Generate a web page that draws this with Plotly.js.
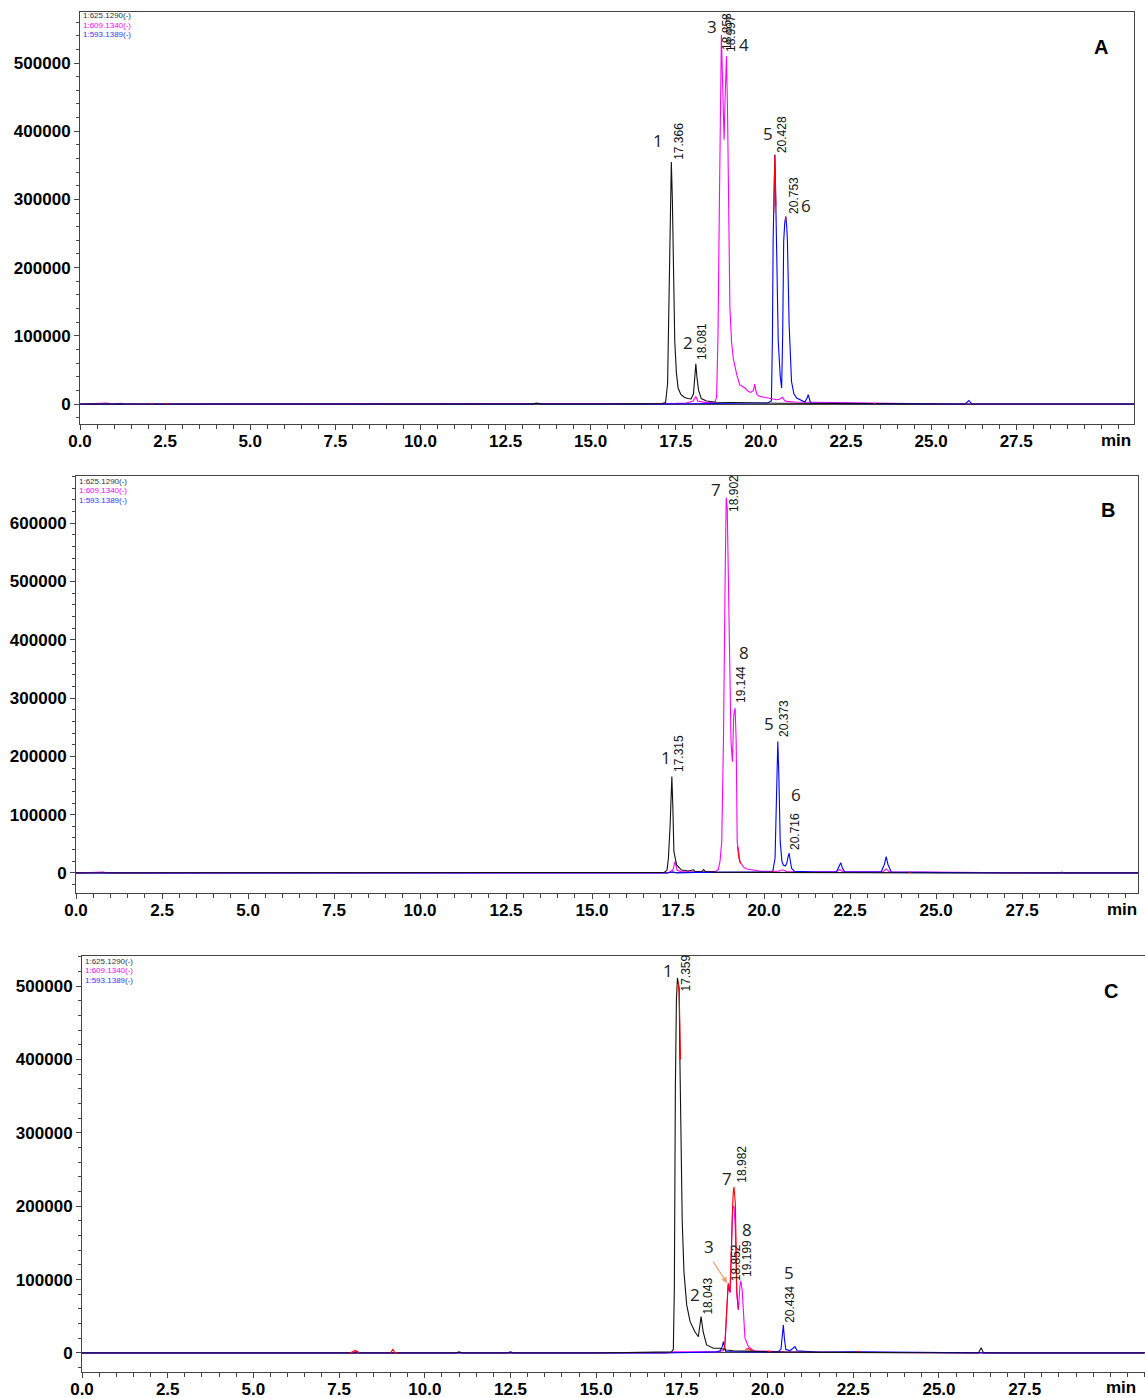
<!DOCTYPE html>
<html><head><meta charset="utf-8">
<script src="https://cdn.plot.ly/plotly-3.0.1.min.js"></script>
<style>html,body{margin:0;padding:0;background:#fff}#chart{width:1145px;height:1398px}</style>
</head><body><div id="chart"></div>
<script>
// ---------- Panel A ----------
var tA_black = [0,5,10,13.3,13.4,13.5,15.5,16.5,17.1,17.2,17.26,17.30,17.34,17.37,17.40,17.43,17.47,17.52,17.57,17.65,17.75,17.85,17.95,18.02,18.06,18.09,18.12,18.17,18.25,18.4,18.7,19.5,20.5,22,24,25,31];
var iA_black = [0,0,0,0,1500,0,0,500,800,2000,30000,150000,300000,355000,300000,180000,92000,45000,23000,14000,10000,8000,7500,15000,45000,59000,40000,20000,8000,4500,2500,1800,1200,800,300,0,0];
var tA_mag = [0,0.8,0.9,1.2,1.3,10,15.8,16.5,17.5,17.8,18.0,18.09,18.15,18.4,18.65,18.70,18.74,18.78,18.81,18.84,18.86,18.90,18.92,18.95,18.99,19.02,19.04,19.07,19.09,19.14,19.19,19.29,19.38,19.45,19.53,19.63,19.70,19.78,19.82,19.86,19.89,19.97,20.17,20.46,20.55,20.63,20.70,20.75,21.0,22,23,24,25,25.5,31];
var iA_mag = [0,1500,0,1200,0,0,0,800,1000,1500,4000,11000,4000,2000,2500,10000,100000,287000,450000,541000,500000,400000,387500,450000,510000,430000,336000,220000,141000,90000,67000,43000,28000,26000,23500,18600,17000,20000,29300,18000,13700,11200,8800,6300,7000,9800,5000,3900,3000,2500,2000,1500,800,0,0];
var tA_blue = [0,10,13.3,13.45,13.6,17.0,18.5,19.5,20.2,20.31,20.34,20.36,20.39,20.41,20.43,20.46,20.51,20.57,20.61,20.64,20.67,20.70,20.73,20.76,20.78,20.83,20.90,20.97,21.05,21.29,21.35,21.39,21.43,21.46,22,25,26.0,26.11,26.2,31];
var iA_blue = [0,0,0,1200,0,0,500,800,1500,5000,100000,238500,330000,365500,320000,238500,91900,40000,23500,100000,238500,265000,275000,260000,238500,116000,33000,15000,8800,2900,8000,13600,5000,1500,1000,500,0,5000,0,0];
var tA_red = [2.08,2.14,null,2.5,2.55,null,20.38,20.40,20.41,20.42,20.44,null,20.72,20.73,20.74,null,23.3,23.36];
var iA_red = [900,900,null,700,700,null,280000,350000,365500,340000,290000,null,268000,275000,268000,null,900,900];

// ---------- Panel B ----------
var tB_black = [0,10,15,16.8,17.1,17.18,17.22,17.27,17.32,17.35,17.38,17.46,17.6,17.8,17.95,18.0,18.2,18.24,18.3,18.6,19.5,21,23,25,31];
var iB_black = [0,0,0,500,1000,5000,25200,82300,165200,111000,36500,13700,5000,3500,5500,2500,3000,6000,2500,1500,1000,500,300,0,0];
var tB_mag = [0,0.8,0.9,10,17.2,17.35,17.41,17.47,17.6,18.3,18.6,18.67,18.72,18.77,18.82,18.87,18.90,18.93,18.96,18.99,19.04,19.08,19.12,19.16,19.19,19.22,19.30,19.40,19.50,19.9,20.4,20.55,20.65,21,22.1,22.2,22.3,23.45,23.55,23.65,25,26,28.6,28.65,28.75,31];
var iB_mag = [0,1500,0,0,0,5000,19400,5000,2000,2000,3000,6000,20000,53700,225200,511000,643600,625400,520000,396700,225200,190900,271000,282500,225200,53700,19400,10000,6900,3000,3000,5500,2500,2000,2000,6000,2000,2000,7000,2000,1500,1000,0,1500,0,0];
var tB_blue = [0,10,17.2,17.35,17.45,18.0,20.25,20.32,20.37,20.40,20.43,20.47,20.52,20.56,20.62,20.66,20.70,20.73,20.76,20.80,20.88,21.5,22.1,22.18,22.23,22.28,22.35,23.4,23.5,23.55,23.6,23.7,25,26.2,27,31];
var iB_blue = [0,0,0,2000,0,1000,1500,25200,168000,225200,168000,53700,20000,13700,12000,16600,28000,33800,22000,8000,3000,1500,1500,10000,17700,8000,1500,1500,15000,28000,15000,1500,1000,1500,0,0];
var tB_red = [19.23,19.27,19.32,null,20.2,20.26,null,24.2,24.26];
var iB_red = [45000,25000,16000,null,2500,2500,null,1200,1200];

// ---------- Panel C ----------
var tC_black = [0,5,9,10.9,11.0,11.1,15,17.0,17.2,17.25,17.28,17.31,17.34,17.37,17.40,17.42,17.44,17.47,17.51,17.56,17.64,17.74,17.88,17.98,18.03,18.06,18.12,18.22,18.42,18.61,18.8,19.0,19.5,20,22,24,26.15,26.23,26.3,31];
var iC_black = [0,0,0,0,1500,0,0,500,1500,5000,88200,361000,480000,511000,505000,497400,406500,315500,179100,110900,65500,42700,29000,22200,40000,49500,29000,10900,6400,6400,4000,3000,2500,1500,800,300,0,7000,0,0];
var tC_mag = [0,7.9,8.0,8.1,17.0,17.3,17.6,18.5,18.7,18.75,18.79,18.83,18.85,18.88,18.91,18.95,18.98,19.02,19.06,19.10,19.15,19.19,19.22,19.26,19.29,19.34,19.44,19.6,20.5,22,25,26,31];
var iC_mag = [0,0,2500,0,0,1500,1500,1500,3000,8000,40000,85000,93000,85000,82000,150000,198000,200000,170000,80000,58700,90000,98200,85000,65500,20500,8600,3000,1500,1000,500,0,0];
var tC_blue = [0,10,12.4,12.5,12.6,17,18.5,18.62,18.68,18.71,18.74,18.78,19.5,20.3,20.39,20.43,20.46,20.49,20.53,20.65,20.75,20.80,20.86,21.5,22.5,25,27,31];
var iC_blue = [0,0,0,1500,0,0,1500,3000,9000,15400,8000,2000,1500,1500,5000,30000,38200,20000,5000,3000,7000,8600,3000,1000,1500,500,0,0];
var tC_red = [7.8,7.9,7.96,8.05,8.1,null,9.0,9.07,9.12,9.2,null,17.39,17.42,17.44,17.46,null,18.72,18.76,18.79,18.83,18.85,18.88,18.90,18.93,18.95,18.98,19.00,19.02,19.04,19.06,19.08,19.10,19.14,null,19.35,19.45,19.55,null,20.0,20.1,null,22.6,22.7];
var iC_red = [0,1500,3500,1000,0,null,0,5000,1000,0,null,505000,490000,450000,400000,null,3000,15000,42700,85000,95100,86000,83600,120000,170000,200000,220000,226000,215000,201900,150000,88200,60000,null,5000,6000,3000,null,2500,1500,null,2000,2000];

// ---------- Tick labels / peak labels ----------
var xTickVals = [0,2.5,5,7.5,10,12.5,15,17.5,20,22.5,25,27.5];
var xTickText = ['0.0','2.5','5.0','7.5','10.0','12.5','15.0','17.5','20.0','22.5','25.0','27.5'];
var channelNames = ['1:625.1290(-)','1:609.1340(-)','1:593.1389(-)'];
var panelNames = ['A','B','C'];

var numsA = [['1',16.98,387000],['2',17.86,90900],['3',18.55,554000],['4',19.50,527800],['5',20.21,397300],['6',21.32,291700]];
var rtsA  = [['17.366',17.59,385600],['18.081',18.27,92400],['18.858',19.00,546800],['18.997',19.12,543900],['20.428',20.62,395800],['20.753',20.97,306400]];
var numsB = [['7',18.60,656800],['8',19.42,377300],['1',17.15,197200],['5',20.15,255500],['6',20.93,133800]];
var rtsB  = [['18.902',19.13,650000],['19.144',19.33,322400],['17.315',17.53,204100],['20.373',20.58,264100],['20.716',20.90,70300]];
var numsC = [['1',17.09,521000],['7',18.81,238300],['8',19.39,167800],['3',18.30,145000],['2',17.88,80100],['5',20.63,109500]];
var rtsC  = [['17.359',17.62,517000],['18.982',19.25,257800],['19.199',19.40,128200],['18.852',19.06,122800],['18.043',18.25,77700],['20.434',20.65,66800]];

var COL = {black:'#111111', mag:'#ff00ff', blue:'#0000ff', red:'#ff0000'};
var W = 1145, H = 1398;
function px(x){return x/W;}
function py(y){return 1 - y/H;}

function tr(t, v, color, xa, ya){
  return {x:t, y:v, type:'scatter', mode:'lines', line:{color:color, width:1.1}, xaxis:xa, yaxis:ya, connectgaps:false, hoverinfo:'skip'};
}
var data = [
  tr(tA_mag,iA_mag,COL.mag,'x','y'), tr(tA_blue,iA_blue,COL.blue,'x','y'), tr(tA_black,iA_black,COL.black,'x','y'), tr(tA_red,iA_red,COL.red,'x','y'),
  tr(tB_mag,iB_mag,COL.mag,'x2','y2'), tr(tB_blue,iB_blue,COL.blue,'x2','y2'), tr(tB_black,iB_black,COL.black,'x2','y2'), tr(tB_red,iB_red,COL.red,'x2','y2'),
  tr(tC_mag,iC_mag,COL.mag,'x3','y3'), tr(tC_blue,iC_blue,COL.blue,'x3','y3'), tr(tC_black,iC_black,COL.black,'x3','y3'), tr(tC_red,iC_red,COL.red,'x3','y3')
];

var tickFont = {family:'Liberation Sans, Arial, sans-serif', size:17, color:'#000', weight:'bold'};
function xAx(dom, rng, anchor){
  return {domain:dom, range:rng, anchor:anchor, showline:true, linecolor:'#444', linewidth:1, mirror:true,
    ticks:'outside', ticklen:5, tickwidth:1, tickcolor:'#444', tickmode:'array', tickvals:xTickVals, ticktext:xTickText,
    ticklabelstandoff:-3,
    tickfont:tickFont, minor:{tickmode:'linear', tick0:0, dtick:0.5, ticks:'outside', ticklen:4, tickcolor:'#444'},
    showgrid:false, zeroline:false, fixedrange:true};
}
function yAx(dom, rng, anchor, mirror){
  return {domain:dom, range:rng, anchor:anchor, showline:true, linecolor:'#444', linewidth:1, mirror:mirror,
    ticks:'outside', ticklen:5, tickwidth:1, tickcolor:'#444', tickmode:'linear', tick0:0, dtick:100000, tickformat:'d',
    tickfont:tickFont, minor:{tickmode:'linear', tick0:0, dtick:20000, ticks:'outside', ticklen:3, tickcolor:'#444'},
    showgrid:false, zeroline:true, zerolinecolor:'#444', zerolinewidth:1, fixedrange:true};
}

var ann = [];
function addPeaks(nums, rts, xr, yr){
  nums.forEach(function(n){
    ann.push({xref:xr, yref:yr, x:n[1], y:n[2], text:n[0], showarrow:false, xanchor:'center', yanchor:'middle',
      font:{family:'Open Sans, Liberation Sans, sans-serif', size:17, color:'#222'}});
  });
  rts.forEach(function(r){
    ann.push({xref:xr, yref:yr, x:r[1], y:r[2], text:r[0], showarrow:false, textangle:-90, xanchor:'center', yanchor:'middle',
      font:{family:'Liberation Sans, Arial, sans-serif', size:12, color:'#111'}});
  });
}
addPeaks(numsA, rtsA, 'x', 'y');
addPeaks(numsB, rtsB, 'x2', 'y2');
addPeaks(numsC, rtsC, 'x3', 'y3');
// arrow pointing to peak 3 in panel C
ann.push({xref:'x3', yref:'y3', x:18.82, y:95100, ax:-15, ay:-23, text:'', showarrow:true, arrowhead:2, arrowsize:1, arrowwidth:1.2, arrowcolor:'#f0a070'});

// legends, panel letters, "min"
var legendPos = [[81,16],[77,481],[83,961]];
var legColors = ['#333333','#ff00ff','#3333ff'];
legendPos.forEach(function(p){
  channelNames.forEach(function(nm, k){
    ann.push({xref:'paper', yref:'paper', x:px(p[0]), y:py(p[1]+k*9.5), text:nm, showarrow:false, xanchor:'left', yanchor:'middle',
      font:{family:'Liberation Sans, Arial, sans-serif', size:8, color:legColors[k]}});
  });
});
var letterPos = [[1101,47],[1108,510],[1111,991]];
letterPos.forEach(function(p,i){
  ann.push({xref:'paper', yref:'paper', x:px(p[0]), y:py(p[1]), text:panelNames[i], showarrow:false, xanchor:'center', yanchor:'middle',
    font:{family:'Liberation Sans, Arial, sans-serif', size:20, color:'#000', weight:'bold'}});
});
var minPos = [[1116,440],[1122,909],[1121,1387]];
minPos.forEach(function(p){
  ann.push({xref:'paper', yref:'paper', x:px(p[0]), y:py(p[1]), text:'min', showarrow:false, xanchor:'center', yanchor:'middle',
    font:{family:'Liberation Sans, Arial, sans-serif', size:17, color:'#000', weight:'bold'}});
});

var layout = {
  width:W, height:H, margin:{l:0,r:0,t:0,b:0,pad:0}, paper_bgcolor:'#fff', plot_bgcolor:'#fff', showlegend:false,
  xaxis:  xAx([px(80), px(1134)], [0, 30.96], 'y'),
  yaxis:  yAx([py(424), py(12)], [-29300, 574800], 'x', true),
  xaxis2: xAx([px(76), px(1138)], [0, 30.87], 'y2'),
  yaxis2: yAx([py(893), py(476)], [-34300, 680600], 'x2', true),
  xaxis3: xAx([px(82), 1], [0, 31.01], 'y3'),
  yaxis3: yAx([py(1372), py(956)], [-25900, 540900], 'x3', false),
  annotations: ann
};
Plotly.newPlot('chart', data, layout, {staticPlot:true, displayModeBar:false});
</script></body></html>
